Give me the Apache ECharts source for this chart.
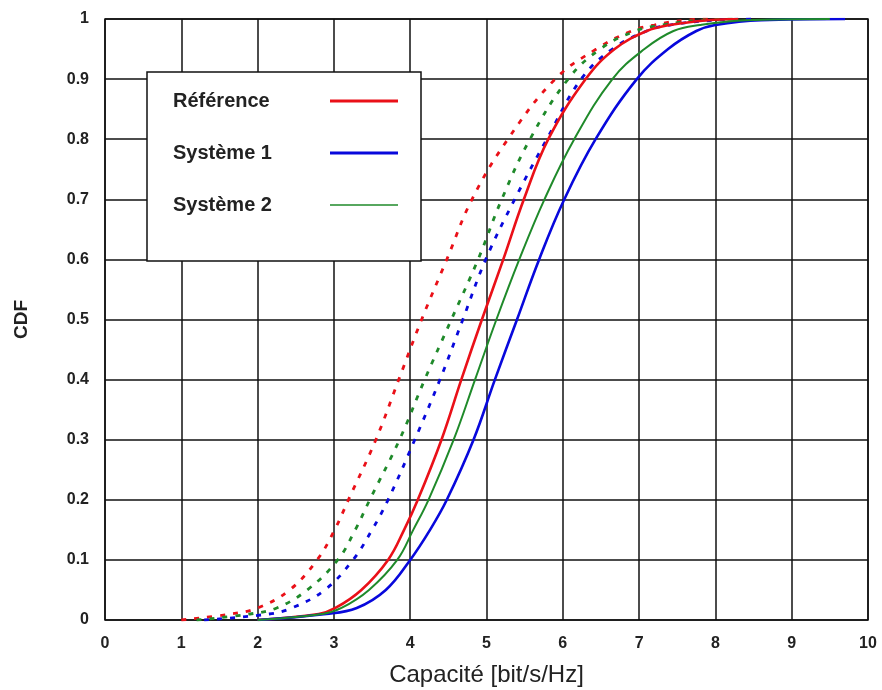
<!DOCTYPE html>
<html>
<head>
<meta charset="utf-8">
<script src="https://cdn.jsdelivr.net/npm/echarts@6/dist/echarts.min.js"></script>
<style>html,body{margin:0;padding:0;background:#fff}#c{width:882px;height:690px}</style>
</head>
<body>
<div id="c"></div>
<script>
// CDF levels shared by all curves
var cdfLevels = [0, 0.01, 0.02, 0.05, 0.1, 0.15, 0.2, 0.3, 0.4, 0.5, 0.6, 0.7, 0.8, 0.9, 0.95, 0.98, 0.99, 0.998, 1];
// Capacity (bit/s/Hz) reached at each CDF level
var refSolid   = [2.0, 2.8, 3.02, 3.36, 3.71, 3.92, 4.10, 4.41, 4.67, 4.94, 5.22, 5.49, 5.81, 6.30, 6.68, 7.1, 7.4, 7.9, 8.3];
var sys1Solid  = [2.0, 2.9, 3.30, 3.68, 4.0, 4.26, 4.48, 4.83, 5.11, 5.40, 5.69, 6.02, 6.43, 6.97, 7.38, 7.75, 8.0, 8.6, 9.7];
var sys2Solid  = [2.0, 2.85, 3.1, 3.46, 3.83, 4.04, 4.24, 4.57, 4.85, 5.13, 5.43, 5.76, 6.15, 6.65, 7.07, 7.45, 7.8, 8.4, 9.5];
var refDashed  = [1.0, 1.65, 2.0, 2.42, 2.78, 3.01, 3.19, 3.55, 3.85, 4.15, 4.48, 4.81, 5.28, 5.90, 6.44, 6.9, 7.2, 7.6, 8.0];
var sys1Dashed = [1.3, 2.15, 2.45, 2.88, 3.25, 3.50, 3.71, 4.06, 4.39, 4.69, 4.99, 5.37, 5.79, 6.24, 6.65, 7.1, 7.4, 8.0, 8.5];
var sys2Dashed = [1.2, 1.9, 2.25, 2.65, 3.05, 3.28, 3.47, 3.86, 4.19, 4.54, 4.89, 5.20, 5.57, 6.07, 6.49, 6.95, 7.3, 7.8, 8.3];
var legendNames = ['Référence', 'Système 1', 'Système 2'];
var xTicks = [0, 1, 2, 3, 4, 5, 6, 7, 8, 9, 10];

var RED = '#ea1018', BLUE = '#0808dc', GREEN = '#1f8a2a';

function pairs(xs) { return xs.map(function (x, i) { return [x, cdfLevels[i]]; }); }
function line(name, xs, color, width, dashed) {
  return {
    name: name, type: 'line', data: pairs(xs), symbol: 'none', showSymbol: false,
    smooth: 0.4, z: dashed ? 3 : 4,
    lineStyle: { color: color, width: width, type: dashed ? [5, 8] : 'solid' },
    itemStyle: { color: color }
  };
}

var chart = echarts.init(document.getElementById('c'), null, { renderer: 'canvas' });
chart.setOption({
  backgroundColor: '#fff',
  animation: false,
  grid: { left: 105, right: 14, top: 19, bottom: 70, show: true, borderColor: '#111', borderWidth: 1.5,
    outerBoundsMode: 'none', containLabel: false },
  xAxis: {
    type: 'value', min: 0, max: 10, interval: 1,
    name: 'Capacité [bit/s/Hz]', nameLocation: 'middle', nameGap: 43,
    nameTextStyle: { fontFamily: 'Liberation Sans', fontSize: 24, color: '#222' },
    axisLine: { show: false }, axisTick: { show: false },
    axisLabel: { margin: 16, fontFamily: 'Liberation Sans', fontWeight: 'bold', fontSize: 16, color: '#222',
      formatter: function (v) { return xTicks.indexOf(v) >= 0 ? String(v) : ''; } },
    splitLine: { show: true, lineStyle: { color: '#111', width: 1.5 } }
  },
  yAxis: {
    type: 'value', min: 0, max: 1, interval: 0.1,
    name: 'CDF', nameLocation: 'middle', nameGap: 74, nameRotate: 90,
    nameTextStyle: { fontFamily: 'Liberation Sans', fontWeight: 'bold', fontSize: 19, color: '#222' },
    axisLine: { show: false }, axisTick: { show: false },
    axisLabel: { margin: 16, fontFamily: 'Liberation Sans', fontWeight: 'bold', fontSize: 16, color: '#222',
      formatter: function (v) { return String(+v.toFixed(1)); } },
    splitLine: { show: true, lineStyle: { color: '#111', width: 1.5 } }
  },
  graphic: [{
    type: 'rect', z: 3, zlevel: 0,
    shape: { x: 147, y: 72, width: 274, height: 189 },
    style: { fill: '#fff', stroke: '#111', lineWidth: 1.5 }
  }],
  legend: {
    data: [
      { name: legendNames[0], icon: 'path://M0,0 H68 V3 H0 Z' },
      { name: legendNames[1], icon: 'path://M0,0 H68 V3 H0 Z' },
      { name: legendNames[2], icon: 'path://M0,0 H68 V1.6 H0 Z' }
    ],
    orient: 'vertical', left: 173, top: 91, align: 'right',
    itemWidth: 68, itemHeight: 20, itemGap: 32, padding: 0, symbolKeepAspect: true,
    formatter: function (n) { return '{a|' + n + '}'; },
    textStyle: { fontFamily: 'Liberation Sans', fontWeight: 'bold', fontSize: 20, color: '#222', lineHeight: 20,
      rich: { a: { width: 152, align: 'left', fontFamily: 'Liberation Sans', fontWeight: 'bold', fontSize: 20, color: '#222', lineHeight: 20 } } },
    selectedMode: false
  },
  series: [
    line('Référence', refSolid, RED, 2.6, false),
    line('Système 1', sys1Solid, BLUE, 2.6, false),
    line('Système 2', sys2Solid, GREEN, 2.0, false),
    line('Référence (pointillés)', refDashed, RED, 2.8, true),
    line('Système 1 (pointillés)', sys1Dashed, BLUE, 2.8, true),
    line('Système 2 (pointillés)', sys2Dashed, GREEN, 2.8, true)
  ]
});
</script>
</body>
</html>
